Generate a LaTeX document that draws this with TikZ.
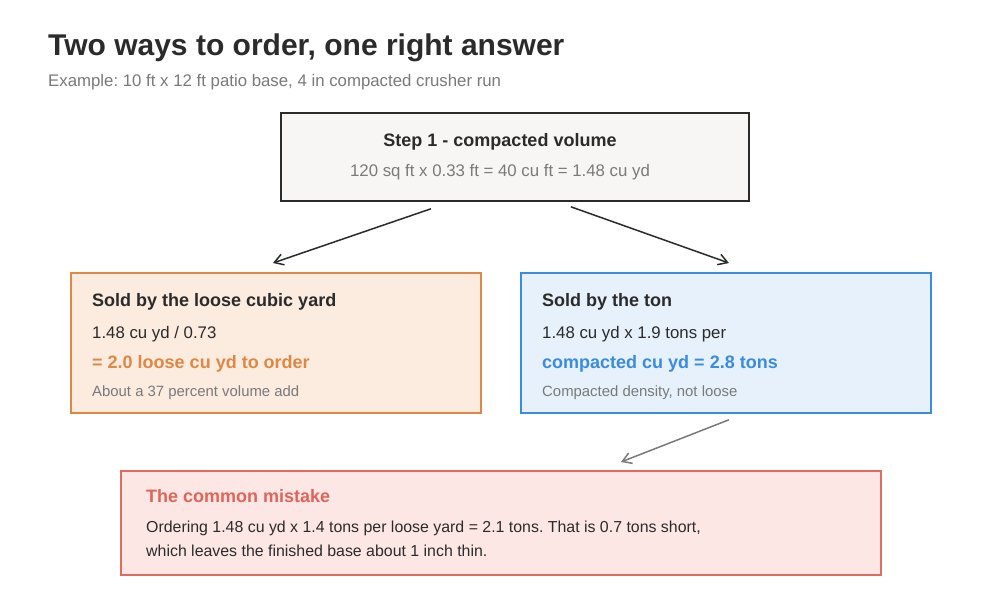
\documentclass[tikz,border=0pt]{standalone}
\usepackage{fontspec}
\setmainfont{Liberation Sans}
\usetikzlibrary{arrows.meta}
\definecolor{ink}{HTML}{2B2B2B}
\definecolor{muted}{HTML}{7A7A7A}
\definecolor{stepfill}{HTML}{F7F6F4}
\definecolor{orangeline}{HTML}{DF8845}
\definecolor{orangefill}{HTML}{FCEBDF}
\definecolor{blueline}{HTML}{3A8CDE}
\definecolor{bluefill}{HTML}{E6F1FC}
\definecolor{redline}{HTML}{E06B5F}
\definecolor{redfill}{HTML}{FCE7E5}
\definecolor{redtext}{HTML}{E0645A}
\frenchspacing

\begin{document}
\begin{tikzpicture}[x=1pt, y=-1pt,
    box/.style={draw, line width=1.8pt, anchor=north west, inner sep=0pt},
    txt/.style={anchor=base west, inner sep=0pt, text=ink},
    head/.style={txt, font=\fontsize{18}{21}\selectfont\bfseries},
    body/.style={txt, font=\fontsize{16.8}{20}\selectfont},
    note/.style={txt, text=muted, font=\fontsize{14.9}{17}\selectfont},
    arr/.style={-{Straight Barb[length=9pt, width=11pt]}, line width=1.5pt, draw=ink}]
    \useasboundingbox[fill=white] (0,0) rectangle (1000,600);

    % title
    \node[txt, font=\fontsize{30}{35}\selectfont\bfseries] (title) at (48,55) {Two ways to order, one right answer};
    \node[note, font=\fontsize{16.8}{20}\selectfont] (subtitle) at (48,86) {Example: 10 ft x 12 ft patio base, 4 in compacted crusher run};

    % step 1
    \node[box, draw=ink, fill=stepfill, minimum width=468pt, minimum height=88pt] (step) at (280,112) {};
    \node[head, anchor=base] (stepHead) at (500,146) {Step 1 - compacted volume};
    \node[note, anchor=base, font=\fontsize{16.8}{20}\selectfont] (stepCalc) at (500,176) {120 sq ft x 0.33 ft = 40 cu ft = 1.48 cu yd};

    % sold by the loose cubic yard
    \node[box, draw=orangeline, fill=orangefill, minimum width=410pt, minimum height=140pt] (loose) at (70,272) {};
    \node[head] (looseHead) at (92,306) {Sold by the loose cubic yard};
    \node[body] (looseCalc) at (92,338) {1.48 cu yd / 0.73};
    \node[head, text=orangeline] (looseAns) at (92,368) {= 2.0 loose cu yd to order};
    \node[note] (looseNote) at (92,396) {About a 37 percent volume add};

    % sold by the ton
    \node[box, draw=blueline, fill=bluefill, minimum width=410pt, minimum height=140pt] (ton) at (520,272) {};
    \node[head] (tonHead) at (542,306) {Sold by the ton};
    \node[body] (tonCalc) at (542,338) {1.48 cu yd x 1.9 tons per};
    \node[head, text=blueline] (tonAns) at (542,368) {compacted cu yd = 2.8 tons};
    \node[note] (tonNote) at (542,396) {Compacted density, not loose};

    % the mistake
    \node[box, draw=redline, fill=redfill, minimum width=760pt, minimum height=104pt] (mistake) at (120,470) {};
    \node[head, text=redtext] (mistakeHead) at (146,502) {The common mistake};
    \node[body, font=\fontsize{15.9}{19}\selectfont] (mistakeLine1) at (146,532) {Ordering 1.48 cu yd x 1.4 tons per loose yard = 2.1 tons. That is 0.7 tons short,};
    \node[body, font=\fontsize{15.9}{19}\selectfont] (mistakeLine2) at (146,556) {which leaves the finished base about 1 inch thin.};

    % arrows
    \draw[arr] ([xshift=-84pt, yshift=-7pt]step.south) -- ([xshift=-3pt, yshift=9pt]loose.north);
    \draw[arr] ([xshift=56pt, yshift=-5pt]step.south) -- ([xshift=3pt, yshift=9pt]ton.north);
    \draw[arr, draw=muted] ([xshift=3pt, yshift=-6pt]ton.south) -- ([xshift=120pt, yshift=8pt]mistake.north);
\end{tikzpicture}
\end{document}
